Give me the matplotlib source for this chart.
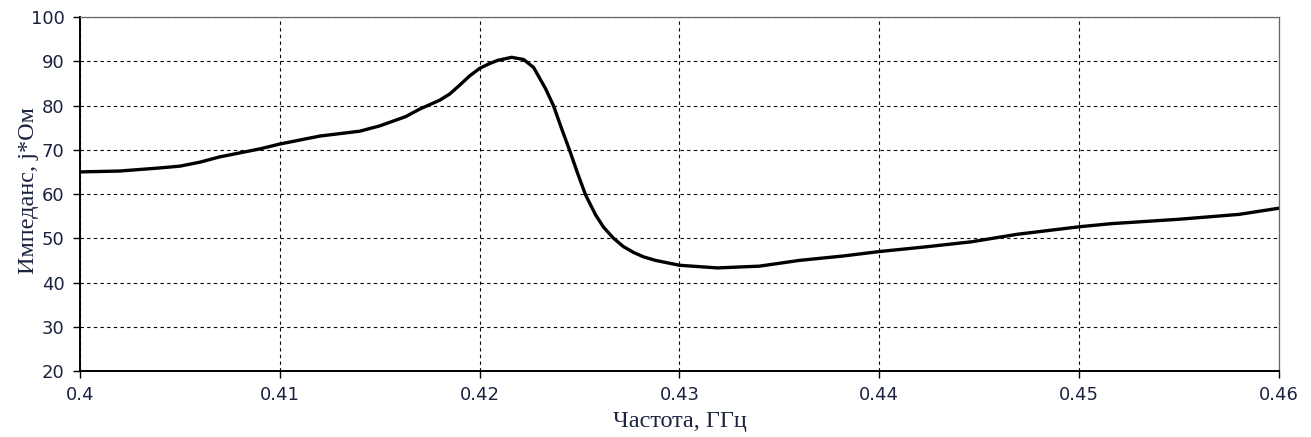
import matplotlib
matplotlib.use("Agg")
import matplotlib.pyplot as plt

# frequency, GHz
freq = [0.400, 0.402, 0.404, 0.405, 0.406, 0.407, 0.408, 0.409, 0.410, 0.412,
        0.414, 0.415, 0.4163, 0.417, 0.418, 0.4185, 0.419, 0.4195, 0.420, 0.4205,
        0.4209, 0.4216, 0.4222, 0.4227, 0.4233, 0.4237, 0.4241, 0.4245, 0.4249,
        0.4253, 0.4258, 0.4262, 0.4267, 0.4272, 0.4277, 0.4282, 0.4288, 0.430,
        0.4319, 0.434, 0.436, 0.4382, 0.440, 0.4424, 0.4446, 0.4469, 0.450,
        0.4516, 0.455, 0.458, 0.460]
# impedance, j*Ohm
imped = [65.0, 65.2, 65.9, 66.3, 67.2, 68.4, 69.3, 70.2, 71.3, 73.1,
         74.2, 75.4, 77.5, 79.2, 81.2, 82.6, 84.6, 86.7, 88.4, 89.5,
         90.2, 90.9, 90.4, 88.6, 83.8, 79.9, 74.8, 69.9, 64.7,
         59.8, 55.3, 52.5, 50.0, 48.1, 46.8, 45.8, 45.0, 43.9,
         43.3, 43.7, 45.0, 46.0, 47.0, 48.1, 49.2, 50.9, 52.6,
         53.3, 54.3, 55.4, 56.8]

xticks = [0.40, 0.41, 0.42, 0.43, 0.44, 0.45, 0.46]
xtick_labels = ["0.4", "0.41", "0.42", "0.43", "0.44", "0.45", "0.46"]
yticks = [20, 30, 40, 50, 60, 70, 80, 90, 100]

txt = "#1c2340"

fig = plt.figure(figsize=(13.11, 4.37), dpi=100)
ax = fig.add_axes([0.061, 0.151, 0.9146, 0.810])

ax.plot(freq, imped, color="black", linewidth=2.4,
        solid_joinstyle="round", solid_capstyle="round")

ax.set_xlim(0.40, 0.46)
ax.set_ylim(20, 100)
ax.set_xticks(xticks)
ax.set_xticklabels(xtick_labels)
ax.set_yticks(yticks)
ax.grid(True, color="black", linestyle=(0, (3, 3)), linewidth=0.8)
ax.set_axisbelow(True)

ax.tick_params(direction="out", length=5, width=1, colors="black",
               labelsize=13, labelcolor=txt, pad=6)

ax.spines["left"].set_linewidth(1.4)
ax.spines["bottom"].set_linewidth(1.4)
ax.spines["top"].set_color("#666666")
ax.spines["right"].set_color("#666666")
ax.spines["top"].set_linewidth(0.9)
ax.spines["right"].set_linewidth(0.9)

ax.set_xlabel("Частота, ГГц", family="Liberation Serif", fontsize=17.5,
              color=txt, labelpad=5)
ax.set_ylabel("Импеданс, j*Ом", family="Liberation Serif", fontsize=17.5,
              color=txt)
ax.yaxis.set_label_coords(-0.034, 0.51)

fig.savefig("out.png", dpi=100)
